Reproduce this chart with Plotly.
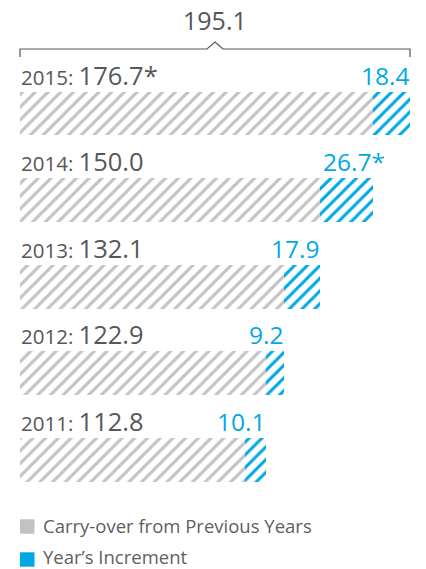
import plotly.graph_objects as go

years = ["2015", "2014", "2013", "2012", "2011"]
carry_over = [176.7, 150.0, 132.1, 122.9, 112.8]
increment = [18.4, 26.7, 17.9, 9.2, 10.1]
carry_labels = ["176.7*", "150.0", "132.1", "122.9", "112.8"]
incr_labels = ["18.4", "26.7*", "17.9", "9.2", "10.1"]
total_label = "195.1"
legend_names = ["Carry-over from Previous Years", "Year\u2019s Increment"]

GRAY = "#c2c2c2"
BLUE = "#00a9e3"
TEXT = "#555759"
FONT = "Open Sans"
W, H = 426, 569

totals = [c + i for c, i in zip(carry_over, increment)]
xmax = max(totals)
ypos = list(range(len(years)))

fig = go.Figure()
for vals, col in [(carry_over, GRAY), (increment, BLUE)]:
    fig.add_trace(go.Bar(
        y=ypos, x=vals, orientation="h", width=0.506,
        marker=dict(color="white", line=dict(width=0),
                    pattern=dict(shape="/", fgcolor=col, bgcolor="white", fgopacity=1,
                                 fillmode="replace", size=9, solidity=0.33)),
        showlegend=False, hoverinfo="skip"))

ann = []
for yi, yr, cl, il, tot in zip(ypos, years, carry_labels, incr_labels, totals):
    ann.append(dict(x=0, y=yi, xref="x", yref="y", xanchor="left", yanchor="bottom",
                    yshift=20, xshift=-1, showarrow=False,
                    text=f"<span style=\"font-size:20.5px\">{yr}: </span>{cl}",
                    font=dict(family=FONT, size=25.5, color=TEXT)))
    star = il.endswith("*")
    ann.append(dict(x=tot, y=yi, xref="x", yref="y", xanchor="right", yanchor="bottom",
                    yshift=20, xshift=(14 if star else 1), showarrow=False,
                    text=il, font=dict(family=FONT, size=24.5, color=BLUE)))

# total bracket label
ann.append(dict(x=xmax / 2, y=1 - 20 / H, xref="x", yref="paper", xanchor="center",
                yanchor="middle", showarrow=False, text=total_label,
                font=dict(family=FONT, size=25, color=TEXT)))

# legend
centers = [525.5, 556.5]
for name, cy in zip(legend_names, centers):
    ann.append(dict(x=42 / W, y=1 - cy / H, xref="paper", yref="paper", xanchor="left",
                    yanchor="middle", showarrow=False, text=name, borderpad=0,
                    font=dict(family=FONT, size=18.5, color="#5f6062")))

shapes = []
for col, cy in zip([GRAY, BLUE], [526.5, 559.5]):
    shapes.append(dict(type="rect", xref="paper", yref="paper",
                       x0=20 / W, x1=34.5 / W, y0=1 - (cy + 7.2) / H, y1=1 - (cy - 7.2) / H,
                       fillcolor=col, line=dict(width=0)))

yb = 1 - 49 / H
yt = 1 - 57 / H
yp = 1 - 42 / H
d = 4.0
path = (f"M 0,{yt} L 0,{yb} L {xmax/2 - d},{yb} L {xmax/2},{yp} L {xmax/2 + d},{yb} "
        f"L {xmax},{yb} L {xmax},{yt}")
shapes.append(dict(type="path", xref="x", yref="paper", path=path,
                   line=dict(color=TEXT, width=1.2)))

px_per_unit = 390 / xmax
x0 = -20 / px_per_unit
x1 = x0 + W / px_per_unit

fig.update_layout(
    width=W, height=H, barmode="stack", bargap=0,
    margin=dict(l=0, r=0, t=0, b=0, autoexpand=False),
    paper_bgcolor="white", plot_bgcolor="white",
    xaxis=dict(range=[x0, x1], visible=False, fixedrange=True),
    yaxis=dict(range=[(H - 113.5) / 86.6, -113.5 / 86.6], visible=False, fixedrange=True),
    annotations=ann, shapes=shapes, showlegend=False,
    font=dict(family=FONT, color=TEXT),
)
fig.write_html("out.html", config={"displayModeBar": False})
